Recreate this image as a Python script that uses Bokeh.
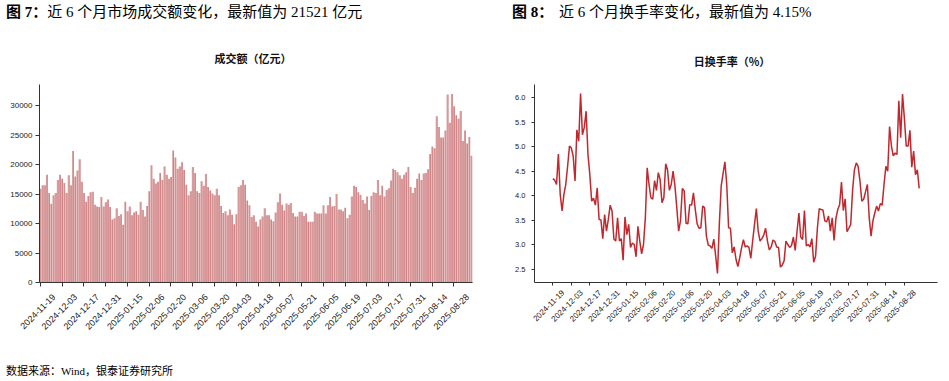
import math
from bokeh.plotting import figure
from bokeh.models import (Range1d, FixedTicker, LinearAxis, Div, SingleIntervalTicker,
                          PrintfTickFormatter, ColumnDataSource)
from bokeh.transform import dodge
from bokeh.layouts import column, row
from bokeh.embed import file_html
from bokeh.resources import INLINE

# ---------------- data ----------------
tick_labels = ["2024-11-19", "2024-12-03", "2024-12-17", "2024-12-31", "2025-01-15",
               "2025-02-06", "2025-02-20", "2025-03-06", "2025-03-20", "2025-04-03",
               "2025-04-18", "2025-05-07", "2025-05-21", "2025-06-05", "2025-06-19",
               "2025-07-03", "2025-07-17", "2025-07-31", "2025-08-14", "2025-08-28"]
tick_index = [0, 10, 20, 30, 40, 50, 60, 70, 80, 90,
              100, 110, 120, 130, 140, 150, 160, 170, 180, 190]

# daily turnover value (亿元), one per trading day
volume = [
    15900, 16500, 16500, 18300, 15200, 13350, 14800, 15200, 17400, 18300,
    17600, 16900, 15200, 18200, 16500, 22300, 18000, 19000, 20900, 17100,
    15200, 13700, 14700, 15300, 15400, 13200, 12900, 12800, 14500, 12900,
    13600, 14100, 12800, 10700, 10900, 12600, 11300, 11600, 9800, 13700,
    12100, 12900, 11400, 11900, 12100, 11500, 13700, 12300, 11200, 13000,
    15500, 19900, 17600, 16800, 17100, 18600, 17400, 19700, 18300, 17600,
    17900, 22400, 21200, 19300, 19700, 20400, 19100, 16600, 14800, 15500,
    19600, 18600, 15500, 15200, 17200, 16400, 18400, 16200, 15600, 15100,
    14800, 15900, 14800, 13000, 11800, 12100, 11400, 12400,
    11500, 9900, 11600, 16200, 16500, 17400, 16600, 13900, 13100, 11100,
    11400, 10300, 9500, 10700, 11200, 12600, 11400, 11400, 10700, 10400,
    11900, 13600, 15100, 13200, 12200, 13400, 13200, 13500, 11800, 11200,
    11200, 12000, 12000, 11300, 11700, 10300, 10300, 10300, 12000, 11700,
    11700, 11700, 13100, 11700, 13100, 14500, 12900, 13000, 15000, 12400,
    12400, 12100, 12700, 10900, 11500, 14600, 16400, 16200, 15300, 14900,
    14000, 13400, 14600, 12300, 14700, 15300, 15200, 17400, 14800, 16400,
    14600, 15700, 16000, 17300, 19300, 19100, 18700, 18200, 17600, 18300,
    18700, 19600, 16200, 15200, 16100, 17600, 18500, 17400, 18500, 18600,
    19200, 21800, 23100, 22800, 28200, 26400, 24600, 24600, 25800, 31900,
    27100, 32000, 29900, 28400, 27800, 29100, 24000, 25800, 23600, 24700,
    21521,
]

# daily turnover rate (%)
turnover = [
    4.35, 4.32, 4.23, 4.85, 4.03, 3.69, 4.03, 4.23, 4.60, 5.01,
    4.97, 4.81, 4.30, 5.34, 5.11, 6.08, 5.24, 5.39, 5.72, 4.84,
    4.43, 3.89, 3.95, 3.81, 4.16, 3.52, 3.51, 3.13, 3.62, 3.28,
    3.52, 3.81, 3.69, 3.12, 3.08, 3.55, 3.08, 3.13, 2.69, 3.57,
    3.21, 3.42, 2.95, 3.04, 3.01, 2.76, 3.38, 3.08, 2.82, 3.01,
    3.55, 4.57, 4.23, 3.96, 3.93, 4.31, 4.11, 4.47, 4.33, 3.86,
    3.96, 4.65, 4.53, 4.11, 4.23, 4.50, 4.20, 3.76, 3.28, 3.49,
    4.15, 4.10, 3.44, 3.43, 3.82, 3.81, 4.06, 3.72, 3.43, 3.34,
    3.35, 3.79, 3.76, 3.18, 3.00, 2.98, 2.93, 3.12, 2.78, 2.42,
    3.43, 4.20, 4.45, 4.69, 4.23, 3.35, 3.34, 2.84, 2.96, 2.71,
    2.56, 2.74, 2.94, 3.11, 2.96, 2.98, 2.95, 2.73, 3.08, 3.42,
    3.74, 3.28, 3.08, 3.13, 3.20, 3.34, 3.08, 2.90, 2.96, 3.10,
    3.07, 2.96, 2.95, 2.55, 2.59, 2.68, 3.08, 3.01, 2.95, 2.99,
    3.16, 2.89, 3.28, 3.65, 3.16, 3.11, 3.70, 2.98, 3.01, 2.96,
    3.13, 2.65, 2.77, 3.35, 3.74, 3.72, 3.71, 3.49, 3.47, 3.59,
    3.28, 3.55, 3.09, 3.54, 3.72, 3.82, 4.28, 3.70, 3.94, 3.27,
    3.34, 3.42, 4.11, 4.53, 4.67, 4.60, 4.30, 3.89, 3.93, 4.08,
    4.23, 3.55, 3.18, 3.49, 3.65, 3.79, 3.69, 3.84, 3.81, 4.23,
    4.60, 4.50, 5.41, 5.01, 4.81, 4.87, 4.84, 5.93, 5.18, 6.07,
    5.58, 5.01, 5.01, 5.33, 4.58, 4.91, 4.43, 4.53, 4.15,
]

heading1_bold = "图 7："
heading1_text = "近 6 个月市场成交额变化，最新值为 21521 亿元"
heading2_bold = "图 8："
heading2_text = "近 6 个月换手率变化，最新值为 4.15%"
title1 = "成交额（亿元）"
title2 = "日换手率（%）"
source_text = "数据来源：Wind，银泰证券研究所"

# ---------------- style ----------------
BAR_LIGHT = "#d79c9c"
BAR_DARK = "#b02a30"
LINE_RED = "#c1272d"
AXIS_COL = "#333333"
TICK_TXT = "#222222"
TICK_FONT = "Liberation Sans"
CJK = "'Liberation Serif', 'Noto Sans CJK SC', sans-serif"

n = len(volume)
idx = list(range(n))


def style_common(p):
    p.xgrid.grid_line_color = None
    p.ygrid.grid_line_color = None
    p.outline_line_color = None
    p.background_fill_color = "white"
    p.border_fill_color = "white"


def tick_axis(ax, ticks, tick_out):
    ax.ticker = FixedTicker(ticks=ticks)
    ax.axis_line_color = AXIS_COL
    ax.major_tick_line_color = AXIS_COL
    ax.major_tick_out = tick_out
    ax.major_tick_in = 0
    ax.minor_tick_line_color = None
    ax.major_label_text_color = None   # labels come from the label axis below
    ax.major_label_standoff = 0


def label_axis(range_name, standoff, size):
    return LinearAxis(x_range_name=range_name, ticker=FixedTicker(ticks=tick_index),
                      major_label_overrides={t: l for t, l in zip(tick_index, tick_labels)},
                      axis_line_color=None, major_tick_line_color=None, minor_tick_line_color=None,
                      major_tick_out=0, minor_tick_out=0,
                      major_label_orientation=math.pi / 4, major_label_standoff=standoff,
                      major_label_text_font=TICK_FONT, major_label_text_font_size=size,
                      major_label_text_color=TICK_TXT)


# ---------------- chart 1: bars ----------------
x1_start, x1_end = -0.37, n - 0.5
p1 = figure(width=480, height=290, x_range=Range1d(x1_start, x1_end),
            y_range=Range1d(0, max(volume) * 1.05),
            output_backend="svg", toolbar_location=None,
            min_border_left=39, min_border_right=8, min_border_top=8, min_border_bottom=78)
style_common(p1)
src1 = ColumnDataSource(dict(x=idx, v=volume))
p1.vbar(x=dodge("x", -0.1, range=p1.x_range), top="v", width=0.62, source=src1,
        fill_color=BAR_LIGHT, line_color=None)
p1.vbar(x=dodge("x", 0.31, range=p1.x_range), top="v", width=0.2, source=src1,
        fill_color=BAR_DARK, line_color=None)

ya = p1.yaxis[0]
ya.ticker = SingleIntervalTicker(interval=5000)
ya.axis_line_color = AXIS_COL
ya.major_tick_line_color = AXIS_COL
ya.major_tick_out = 4
ya.major_tick_in = 0
ya.minor_tick_line_color = None
ya.major_label_text_font = TICK_FONT
ya.major_label_text_font_size = "8px"
ya.major_label_text_color = TICK_TXT
ya.major_label_standoff = 3

tick_axis(p1.xaxis[0], tick_index, 4)
s1 = 6.3
p1.extra_x_ranges = {"lab": Range1d(x1_start - s1, x1_end - s1)}
p1.add_layout(label_axis("lab", 9, "9px"), "below")

# ---------------- chart 2: line ----------------
pad = 0.05 * (n - 1)
x2_start, x2_end = -pad, (n - 1) + pad
rng = max(turnover) - min(turnover)
p2 = figure(width=469, height=290, x_range=Range1d(x2_start, x2_end),
            y_range=Range1d(min(turnover) - 0.05 * rng, max(turnover) + 0.05 * rng),
            output_backend="svg", toolbar_location=None,
            min_border_left=54, min_border_right=12, min_border_top=12, min_border_bottom=80)
style_common(p2)
p2.line(idx, turnover, line_color=LINE_RED, line_width=1.5)

yb = p2.yaxis[0]
yb.ticker = SingleIntervalTicker(interval=0.5)
yb.formatter = PrintfTickFormatter(format="%.1f")
yb.axis_line_color = AXIS_COL
yb.major_tick_line_color = AXIS_COL
yb.major_tick_out = 3
yb.major_tick_in = 0
yb.minor_tick_line_color = None
yb.major_label_text_font = TICK_FONT
yb.major_label_text_font_size = "7.5px"
yb.major_label_text_color = TICK_TXT
yb.major_label_standoff = 5

tick_axis(p2.xaxis[0], tick_index, 3)
s2 = 5.6
p2.extra_x_ranges = {"lab": Range1d(x2_start - s2, x2_end - s2)}
p2.add_layout(label_axis("lab", 6, "8px"), "below")

# ---------------- text blocks ----------------
head_style = "position:absolute;top:5px;font-size:15px;line-height:15px;white-space:nowrap;color:#000;"
title_style = ("position:absolute;width:140px;text-align:center;font-size:11px;line-height:12px;"
               "font-weight:bold;white-space:nowrap;color:#111;font-family:'Noto Sans CJK SC',sans-serif;")
header_html = (
    f'<div style="position:relative;width:949px;height:72px;font-family:{CJK};">'
    f'<div style="{head_style}left:6px;"><b>{heading1_bold}</b>{heading1_text}</div>'
    f'<div style="{head_style}left:512px;"><b>{heading2_bold}</b></div>'
    f'<div style="{head_style}left:559px;">{heading2_text}</div>'
    f'<div style="{title_style}left:183px;top:52px;">{title1}</div>'
    f'<div style="{title_style}left:662px;top:55px;">{title2}</div>'
    '</div>'
)
header = Div(text=header_html, width=949, height=72, margin=(0, 0, 0, 0))

footer_html = (
    f'<div style="position:relative;width:949px;height:19px;font-family:{CJK};">'
    f'<div style="position:absolute;left:6px;top:4px;font-size:11px;line-height:11px;'
    f'white-space:nowrap;color:#000;">{source_text}</div></div>'
)
footer = Div(text=footer_html, width=949, height=19, margin=(0, 0, 0, 0))

layout = column(header, row(p1, p2, spacing=0), footer, spacing=0)

open("out.html", "w").write(file_html(layout, INLINE))
